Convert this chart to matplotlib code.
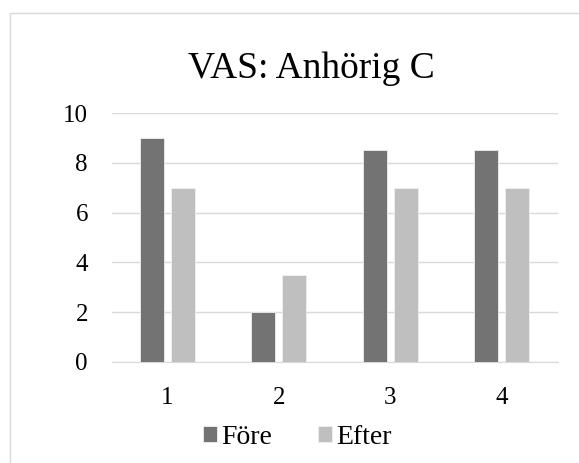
import numpy as np
import matplotlib.pyplot as plt
from matplotlib.patches import Rectangle

categories = ['1', '2', '3', '4']
fore = [9, 2, 8.5, 8.5]
efter = [7, 3.5, 7, 7]

plt.rcParams['font.family'] = ['Liberation Serif', 'DejaVu Serif']

fig = plt.figure(figsize=(5.79, 4.63), dpi=100)
# chart frame (cropped at right and bottom like the reference)
fig.patches.append(Rectangle((10 / 579, -0.1), 1.2, 1 - 13 / 463 + 0.1,
                             transform=fig.transFigure, fill=False,
                             edgecolor='#d9d9d9', lw=1))

ax = fig.add_axes([111.5 / 579, 1 - 362 / 463, 446 / 579, 249 / 463])
x = np.arange(len(categories))
w = 0.215
ax.bar(x - 0.14, fore, w, color='#737373', edgecolor='#f0f0f0', lw=0.6,
       label='Före', zorder=3)
ax.bar(x + 0.14, efter, w, color='#bfbfbf', edgecolor='#f0f0f0', lw=0.6,
       label='Efter', zorder=3)

ax.set_xlim(-0.5, 3.5)
ax.set_ylim(0, 10)
ax.set_yticks(range(0, 11, 2))
ax.set_xticks(x)
ax.set_xticklabels(categories)
ax.grid(axis='y', color='#d9d9d9', lw=1, zorder=0)
for s in ['top', 'right', 'left']:
    ax.spines[s].set_visible(False)
ax.spines['bottom'].set_color('#d9d9d9')
ax.tick_params(length=0, labelsize=18, colors='black')
ax.tick_params(axis='y', pad=17)
ax.tick_params(axis='x', pad=18)

fig.text(311 / 579, 1 - 78 / 463, 'VAS: Anhörig C', ha='center', va='baseline',
         fontsize=27)

fig.legend(loc='center', bbox_to_anchor=(297.5 / 579, 1 - 437 / 463), ncol=2,
           frameon=False, fontsize=20, handlelength=0.5, handleheight=0.5,
           handletextpad=0.15, columnspacing=1.65, borderaxespad=0,
           borderpad=0)

fig.savefig('out.png', dpi=100)
